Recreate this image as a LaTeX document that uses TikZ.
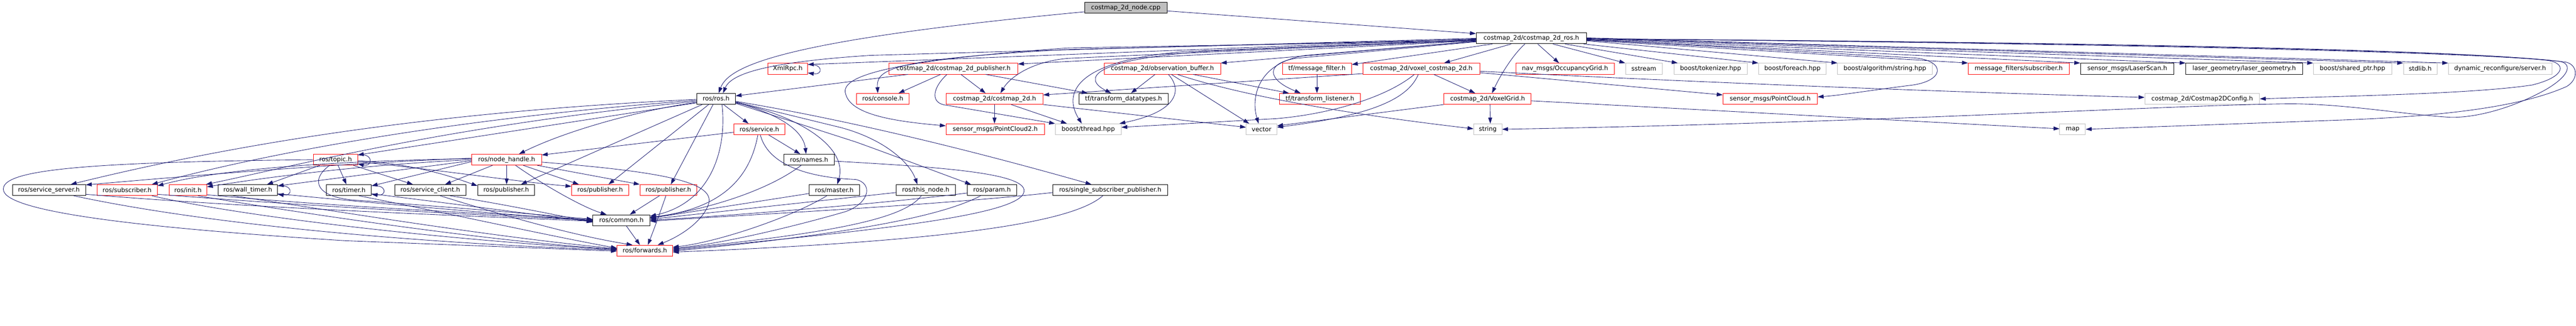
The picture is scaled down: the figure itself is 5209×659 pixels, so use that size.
\documentclass[tikz,border=0pt]{standalone}
\usepackage{fontspec}
\setmainfont{DejaVu Sans}
\usetikzlibrary{arrows.meta}
\definecolor{edgec}{HTML}{191970}
\definecolor{grayb}{HTML}{BFBFBF}
\tikzset{
  nbox/.style={draw, rectangle, minimum height=22pt, inner sep=0pt, line width=1pt,
    font=\fontsize{12.5}{15}\selectfont, text=black, anchor=center},
  rbox/.style={nbox, draw=red},
  bbox/.style={nbox, draw=black},
  gbox/.style={nbox, draw=grayb},
  rootbox/.style={nbox, draw=black, fill=grayb},
  e/.style={draw=edgec, line width=0.9pt, -{Triangle[length=12pt,width=8pt]}},
}
\begin{document}
\begin{tikzpicture}[x=1pt,y=-1pt]
\useasboundingbox (0,0) rectangle (5209,659);
% ---------- nodes ----------
\node[rootbox, minimum width=167pt] (root) at (2276.5,16) {costmap\_2d\_node.cpp};
\node[bbox, minimum width=223pt] (cmros) at (3096.5,77.5) {costmap\_2d/costmap\_2d\_ros.h};
% row 2
\node[rbox, minimum width=80pt] (xmlrpc) at (1593,139) {XmlRpc.h};
\node[rbox, minimum width=260pt] (pub) at (1928,139) {costmap\_2d/costmap\_2d\_publisher.h};
\node[rbox, minimum width=235pt] (obsbuf) at (2350.5,139) {costmap\_2d/observation\_buffer.h};
\node[rbox, minimum width=140pt] (msgfilter) at (2663,139) {tf/message\_filter.h};
\node[rbox, minimum width=236pt] (voxcm) at (2874,139) {costmap\_2d/voxel\_costmap\_2d.h};
\node[rbox, minimum width=199pt] (occgrid) at (3164.5,139) {nav\_msgs/OccupancyGrid.h};
\node[gbox, minimum width=74pt] (sstream) at (3324,139) {sstream};
\node[gbox, minimum width=148pt] (tokenizer) at (3459,139) {boost/tokenizer.hpp};
\node[gbox, minimum width=137pt] (foreach) at (3624.5,139) {boost/foreach.hpp};
\node[gbox, minimum width=191pt] (algostr) at (3811.5,139) {boost/algorithm/string.hpp};
\node[rbox, minimum width=204pt] (mfsub) at (4082,139) {message\_filters/subscriber.h};
\node[bbox, minimum width=189pt] (laserscan) at (4301.5,139) {sensor\_msgs/LaserScan.h};
\node[bbox, minimum width=236pt] (lasergeo) at (4538,139) {laser\_geometry/laser\_geometry.h};
\node[gbox, minimum width=158pt] (sharedptr) at (4757,139) {boost/shared\_ptr.hpp};
\node[gbox, minimum width=68pt] (stdlib) at (4894,139) {stdlib.h};
\node[gbox, minimum width=209pt] (dynrec) at (5055.5,139) {dynamic\_reconfigure/server.h};
% row 3
\node[bbox, minimum width=78pt] (rosros) at (1448,200) {ros/ros.h};
\node[rbox, minimum width=106pt] (console) at (1785,200) {ros/console.h};
\node[rbox, minimum width=196pt] (cm2d) at (2011,200) {costmap\_2d/costmap\_2d.h};
\node[bbox, minimum width=180pt] (tfdata) at (2272,200) {tf/transform\_datatypes.h};
\node[rbox, minimum width=164pt] (tflisten) at (2669,200) {tf/transform\_listener.h};
\node[rbox, minimum width=176pt] (voxgrid) at (3008,200) {costmap\_2d/VoxelGrid.h};
\node[rbox, minimum width=191pt] (pcloud) at (3579.5,200) {sensor\_msgs/PointCloud.h};
\node[gbox, minimum width=232pt] (cmconfig) at (4453,200) {costmap\_2d/Costmap2DConfig.h};
% row 4
\node[rbox, minimum width=103pt] (service) at (1535.5,261.5) {ros/service.h};
\node[rbox, minimum width=199pt] (pc2) at (2012.5,261.5) {sensor\_msgs/PointCloud2.h};
\node[gbox, minimum width=133pt] (thread) at (2200.5,261.5) {boost/thread.hpp};
\node[gbox, minimum width=62pt] (vector) at (2551,261.5) {vector};
\node[gbox, minimum width=57pt] (string) at (3008.5,261.5) {string};
\node[gbox, minimum width=52pt] (map) at (4191,261.5) {map};
% row 5
\node[rbox, minimum width=89pt] (topic) at (678.5,323) {ros/topic.h};
\node[rbox, minimum width=141pt] (nodeh) at (1024.5,323) {ros/node\_handle.h};
\node[bbox, minimum width=102pt] (names) at (1636,323) {ros/names.h};
% row 6
\node[bbox, minimum width=148pt] (srvserver) at (99,384.5) {ros/service\_server.h};
\node[rbox, minimum width=122pt] (subscriber) at (257,384.5) {ros/subscriber.h};
\node[rbox, minimum width=76pt] (init) at (380,384.5) {ros/init.h};
\node[bbox, minimum width=120pt] (walltimer) at (501,384.5) {ros/wall\_timer.h};
\node[bbox, minimum width=91pt] (timer) at (705.5,384.5) {ros/timer.h};
\node[bbox, minimum width=144pt] (srvclient) at (870,384.5) {ros/service\_client.h};
\node[bbox, minimum width=115pt] (pubblack) at (1023.5,384.5) {ros/publisher.h};
\node[rbox, minimum width=115pt] (pubred1) at (1213.5,384.5) {ros/publisher.h};
\node[rbox, minimum width=115pt] (pubred2) at (1351.5,384.5) {ros/publisher.h};
\node[bbox, minimum width=102pt] (master) at (1687,384.5) {ros/master.h};
\node[bbox, minimum width=120pt] (thisnode) at (1872,384.5) {ros/this\_node.h};
\node[bbox, minimum width=100pt] (param) at (2006,384.5) {ros/param.h};
\node[bbox, minimum width=232pt] (ssp) at (2245,384.5) {ros/single\_subscriber\_publisher.h};
% row 7, 8
\node[bbox, minimum width=115pt] (common) at (1256.5,445.5) {ros/common.h};
\node[rbox, minimum width=112pt] (forwards) at (1304,507) {ros/forwards.h};

% ---------- edges ----------
% root
\draw[e] (root) -- ([yshift=-2pt]cmros.north west);
\draw[e] (root) .. controls (1600,80) and (1475,130) .. ([xshift=5pt]rosros.north);
% costmap_2d_ros.h, to the left
\draw[e] (cmros.west) -- (1760,112) .. controls (1545,126) and (1478,150) .. ([xshift=14pt]rosros.north);
\draw[e] ([yshift=-1pt]cmros.west) -- ([yshift=-3pt]xmlrpc.north east);
\draw[e] ([yshift=-5pt]cmros.west) -- ([yshift=-2pt]pub.north east);
\draw[e] ([yshift=-2pt]cmros.west) -- (2160,100) .. controls (1800,120) and (1772,140) .. ([xshift=-10pt]console.north);
\draw[e] ([yshift=-4pt]cmros.west) -- (2160,118) .. controls (2080,125) and (2040,160) .. ([xshift=12pt]cm2d.north);
\draw[e] ([yshift=-6pt]cmros.west) -- (obsbuf.north east);
\draw[e] ([yshift=-3pt]cmros.west) -- (2450,103) .. controls (2200,120) and (2190,160) .. ([xshift=-25pt]tfdata.north);
\draw[e] ([yshift=-3pt]cmros.west) -- (2400,104) .. controls (2170,122) and (2150,190) .. ([xshift=-13pt]thread.north);
\draw[e] ([yshift=-6pt]cmros.west) -- (2640,112) .. controls (2540,128) and (2530,200) .. ([xshift=-6pt]vector.north);
\draw[e] ([yshift=-7pt]cmros.west) -- (2620,118) .. controls (2560,128) and (2560,160) .. ([xshift=-39pt]tflisten.north);
\draw[e] ([yshift=-5pt]cmros.west) -- (2160,97) .. controls (1760,125) and (1700,160) .. (1710,190) .. controls (1720,230) and (1800,245) .. ([yshift=7pt]pc2.west);
% costmap_2d_ros.h, below
\draw[e] (cmros) -- ([yshift=-3pt]msgfilter.north east);
\draw[e] (cmros) -- ([xshift=46pt]voxcm.north);
\draw[e] (cmros) .. controls (3060,110) and (3035,150) .. ([xshift=9pt]voxgrid.north);
\draw[e] (cmros) -- ([xshift=-12pt]occgrid.north);
\draw[e] (cmros) -- (sstream.north west);
\draw[e] (cmros) -- ([xshift=8pt]tokenizer.north west);
\draw[e] (cmros) -- (foreach.north west);
% costmap_2d_ros.h, to the right
\draw[e] ([yshift=-5pt]cmros.east) -- (algostr.north west);
\draw[e] ([yshift=-4pt]cmros.east) -- (mfsub.north west);
\draw[e] ([yshift=-3pt]cmros.east) -- (laserscan.north west);
\draw[e] ([yshift=-2pt]cmros.east) -- (lasergeo.north west);
\draw[e] ([yshift=-1pt]cmros.east) -- (sharedptr.north west);
\draw[e] ([yshift=0pt]cmros.east) -- (stdlib.north west);
\draw[e] ([yshift=1pt]cmros.east) -- (dynrec.north west);
\draw[e] ([yshift=-3pt]cmros.east) .. controls (3500,95) and (3700,108) .. (3870,117) .. controls (3935,122) and (3935,165) .. (3860,173) .. controls (3780,183) and (3720,193) .. ([yshift=4pt]pcloud.east);
\draw[e] ([yshift=-1pt]cmros.east) .. controls (4200,85) and (4950,100) .. (5150,122) .. controls (5190,127) and (5190,155) .. (5120,172) .. controls (5000,190) and (4750,194) .. (cmconfig.east);
\draw[e] ([yshift=-1pt]cmros.east) .. controls (4200,86) and (5000,102) .. (5175,124) .. controls (5200,128) and (5200,150) .. (5150,180) .. controls (5080,220) and (5000,240) .. (4950,237) .. controls (4850,230) and (4740,210) .. (4630,210) .. controls (4400,212) and (3800,248) .. (string.east);
\draw[e] ([yshift=-1pt]cmros.east) .. controls (4200,87) and (5050,105) .. (5190,126) .. controls (5212,132) and (5215,160) .. (5190,175) .. controls (5100,215) and (4950,235) .. (4730,243) -- (map.east);
% XmlRpc.h self loop
\draw[e] ([yshift=-3pt]xmlrpc.north east) .. controls (1665,128) and (1665,152) .. ([yshift=3pt]xmlrpc.south east);
% costmap_2d_publisher.h
\draw[e] (pub) -- ([yshift=6pt]rosros.east);
\draw[e] (pub) -- ([xshift=32pt]console.north);
\draw[e] (pub) -- ([xshift=-18pt]cm2d.north);
\draw[e] ([xshift=-13pt]pub.south) .. controls (1885,178) and (1880,210) .. (1915,213) -- (thread.north west);
\draw[e] ([xshift=65pt]pub.south) -- ([xshift=18pt]tfdata.north west);
% costmap_2d.h
\draw[e] (cm2d) -- (cm2d |- pc2.north);
\draw[e] (cm2d) -- ([xshift=-43pt]thread.north);
\draw[e] (cm2d.south east) -- ([yshift=4pt]vector.west);
% observation_buffer.h
\draw[e] (obsbuf) -- ([xshift=15pt]tfdata.north);
\draw[e] ([xshift=12pt]obsbuf.south) .. controls (2390,180) and (2385,225) .. ([xshift=-4pt]thread.north east);
\draw[e] ([xshift=18pt]obsbuf.south) -- ([xshift=-25pt]vector.north);
\draw[e] ([xshift=30pt]obsbuf.south) .. controls (2500,190) and (2700,228) .. ([yshift=1pt]string.west);
\draw[e] ([xshift=62pt]obsbuf.south) -- ([xshift=20pt]tflisten.north west);
% tf/message_filter.h
\draw[e] (msgfilter) -- (msgfilter |- tflisten.north);
% voxel_costmap_2d.h
\draw[e] ([yshift=-10pt]voxcm.west) -- ([yshift=8pt]cm2d.east);
\draw[e] (voxcm) -- ([xshift=-25pt]voxgrid.north);
\draw[e] ([xshift=-14pt]voxcm.south) .. controls (2800,200) and (2680,232) .. (2580,240) -- ([yshift=4pt]thread.east);
\draw[e] ([xshift=-6pt]voxcm.south) .. controls (2845,205) and (2760,235) .. ([yshift=4pt]vector.east);
\draw[e] ([yshift=-8pt]voxcm.east) -- ([yshift=8pt]pcloud.west);
\draw[e] ([yshift=-5pt]voxcm.east) .. controls (3400,165) and (3900,185) .. ([yshift=3pt]cmconfig.west);
% VoxelGrid.h
\draw[e] ([xshift=5pt]voxgrid.south) -- ([xshift=5pt]string.north);
\draw[e] (voxgrid.south west) -- ([yshift=7pt]vector.east);
\draw[e] ([yshift=-4pt]voxgrid.east) .. controls (3500,225) and (3900,247) .. ([yshift=1pt]map.west);
% ros/ros.h
\draw[e] (rosros) -- ([xshift=-22pt]service.north);
\draw[e] ([yshift=-7pt]rosros.east) .. controls (1590,235) and (1625,270) .. ([xshift=-6pt]names.north);
\draw[e] ([yshift=-8pt]rosros.east) .. controls (1620,235) and (1715,300) .. ([xshift=6pt]master.north);
\draw[e] ([yshift=-5pt]rosros.east) .. controls (1700,240) and (1950,300) .. ([xshift=-38pt]ssp.north);
\draw[e] ([yshift=-6pt]rosros.east) -- (1700,258) .. controls (1790,282) and (1840,330) .. ([xshift=-17pt]thisnode.north);
\draw[e] ([yshift=-9pt]rosros.east) -- (1730,287) .. controls (1800,312) and (1900,350) .. ([xshift=8pt]param.north west);
\draw[e] (rosros) -- ([xshift=5pt]pubred2.north);
\draw[e] ([xshift=-15pt]rosros.south) -- ([xshift=17pt]pubred1.north);
\draw[e] ([xshift=-28pt]rosros.south) -- ([xshift=30pt]pubblack.north);
\draw[e] ([yshift=-7pt]rosros.west) .. controls (1300,222) and (1150,262) .. ([xshift=25pt]nodeh.north);
\draw[e] ([yshift=-1pt]rosros.west) .. controls (900,225) and (500,285) .. ([xshift=44pt]srvserver.north);
\draw[e] ([yshift=-3pt]rosros.west) .. controls (900,240) and (520,315) .. ([xshift=50pt]subscriber.north);
\draw[e] ([yshift=-5pt]rosros.west) .. controls (900,255) and (600,335) .. ([xshift=-2pt]init.north east);
\draw[e] ([yshift=-8pt]rosros.west) -- ([yshift=-2pt]topic.north east);
\draw[e] ([xshift=12pt]rosros.south) .. controls (1470,300) and (1440,410) .. ([yshift=8pt]common.east);
% ros/service.h
\draw[e] (service) -- ([xshift=-18pt]names.north);
\draw[e] ([yshift=-6pt]service.west) -- ([yshift=-2pt]nodeh.north east);
\draw[e] ([xshift=-3pt]service.south) .. controls (1520,340) and (1480,420) .. ([yshift=6pt]common.east);
\draw[e] ([xshift=2pt]service.south) .. controls (1555,340) and (1650,360) .. (1730,363) .. controls (1765,370) and (1760,410) .. (1710,428) .. controls (1600,460) and (1450,495) .. ([yshift=5pt]forwards.east);
% ros/names.h
\draw[e] ([xshift=-16pt]names.south) .. controls (1560,380) and (1450,420) .. ([yshift=5pt]common.east);
\draw[e] ([yshift=-3pt]names.east) .. controls (1900,338) and (2085,350) .. (2070,390) .. controls (2055,440) and (1700,472) .. ([yshift=1pt]forwards.east);
% ros/node_handle.h
\draw[e] (nodeh) -- ([xshift=30pt]srvclient.north);
\draw[e] (nodeh) -- (nodeh |- pubblack.north);
\draw[e] (nodeh) -- ([xshift=-43pt]pubred1.north);
\draw[e] (nodeh) -- (pubred2.north west);
\draw[e] ([xshift=18pt]nodeh.south) .. controls (1100,375) and (1180,420) .. ([xshift=-30pt]common.north);
\draw[e] ([yshift=-5pt]nodeh.east) .. controls (1350,348) and (1450,370) .. (1432,415) .. controls (1418,452) and (1370,480) .. ([xshift=26pt]forwards.north);
\draw[e] ([yshift=-2pt]nodeh.west) -- ([yshift=-3pt]walltimer.north east);
\draw[e] ([yshift=-4pt]nodeh.west) -- ([yshift=-3pt]timer.north east);
\draw[e] ([yshift=2pt]nodeh.west) .. controls (700,325) and (450,340) .. ([yshift=-3pt]subscriber.north east);
\draw[e] ([yshift=3pt]nodeh.west) .. controls (700,330) and (450,350) .. ([yshift=-1pt]srvserver.north east);
\draw[e] ([yshift=0pt]nodeh.west) .. controls (700,335) and (500,365) .. ([yshift=-5pt]init.north east);
% ros/topic.h
\draw[e] ([yshift=-2pt]topic.north east) .. controls (755,308) and (755,338) .. ([yshift=3pt]topic.south east);
\draw[e] (topic) -- ([xshift=39pt]walltimer.north);
\draw[e] (topic) -- ([xshift=-5pt]timer.north);
\draw[e] (topic) -- ([xshift=-35pt]srvclient.north);
\draw[e] ([xshift=-12pt]topic.south) .. controls (625,365) and (640,400) .. (720,405) .. controls (900,418) and (1100,435) .. ([yshift=2pt]common.west);
\draw[e] (topic.west) .. controls (150,328) and (0,345) .. (7,385) .. controls (15,430) and (300,462) .. (700,487) -- ([yshift=-1pt]forwards.west);
\draw[e] ([yshift=-2pt]topic.east) .. controls (850,333) and (920,360) .. ([yshift=-3pt]pubblack.north west);
\draw[e] ([yshift=-4pt]topic.east) .. controls (900,345) and (1050,368) .. ([yshift=-4pt]pubred1.north west);
% timers self loops
\draw[e] ([yshift=-3pt]walltimer.north east) .. controls (593,372) and (593,397) .. ([yshift=3pt]walltimer.south east);
\draw[e] ([yshift=-3pt]timer.north east) .. controls (783,372) and (783,397) .. ([yshift=3pt]timer.south east);
% row 6 to common / forwards (left part)
\draw[e] ([yshift=3pt]srvserver.south east) .. controls (500,420) and (900,435) .. ([yshift=-2pt]common.west);
\draw[e] ([xshift=50pt]srvserver.south) .. controls (400,450) and (800,490) .. ([yshift=1pt]forwards.west);
\draw[e] ([yshift=3pt]subscriber.south east) .. controls (600,415) and (900,432) .. (common.west);
\draw[e] ([xshift=50pt]subscriber.south) .. controls (500,440) and (900,485) .. ([yshift=2pt]forwards.west);
\draw[e] ([yshift=2pt]init.south east) .. controls (700,420) and (1000,432) .. ([yshift=1pt]common.west);
\draw[e] ([xshift=20pt]init.south) .. controls (600,430) and (1000,490) .. ([yshift=3pt]forwards.west);
\draw[e] ([yshift=4pt]walltimer.south east) .. controls (800,415) and (1000,432) .. ([yshift=-1pt]common.west);
\draw[e] ([xshift=-30pt]walltimer.south) .. controls (700,430) and (1000,480) .. ([yshift=4pt]forwards.west);
\draw[e] ([yshift=4pt]timer.south east) .. controls (900,410) and (1050,430) .. ([yshift=-3pt]common.west);
\draw[e] ([xshift=20pt]timer.south) .. controls (900,430) and (1100,475) .. ([yshift=5pt]forwards.west);
\draw[e] ([xshift=40pt]srvclient.south) .. controls (1000,410) and (1100,430) .. ([yshift=-4pt]common.west);
\draw[e] ([xshift=20pt]srvclient.south) .. controls (1000,430) and (1150,475) .. ([xshift=-25pt]forwards.north);
\draw[e] ([xshift=-18pt]pubred2.south) -- ([xshift=17pt]common.north);
\draw[e] ([xshift=-5pt]pubred2.south) .. controls (1335,430) and (1320,470) .. ([xshift=6pt]forwards.north);
\draw[e] ([xshift=10pt]common.south) -- ([xshift=-10pt]forwards.north);
% row 6 to common / forwards (right part)
\draw[e] ([yshift=-7pt]master.west) -- ([yshift=4pt]common.east);
\draw[e] ([xshift=-15pt]master.south) .. controls (1600,440) and (1450,490) .. ([yshift=7pt]forwards.east);
\draw[e] ([yshift=-5pt]thisnode.west) -- ([yshift=2pt]common.east);
\draw[e] ([xshift=-9pt]thisnode.south) .. controls (1830,440) and (1700,470) .. ([yshift=3pt]forwards.east);
\draw[e] ([yshift=-6pt]param.west) .. controls (1800,410) and (1500,435) .. (common.east);
\draw[e] ([xshift=-23pt]param.south) .. controls (1900,440) and (1700,475) .. ([yshift=-1pt]forwards.east);
\draw[e] ([yshift=-5pt]ssp.west) .. controls (1900,415) and (1500,435) .. ([yshift=-2pt]common.east);
\draw[e] ([xshift=-15pt]ssp.south) .. controls (2180,440) and (2000,485) .. ([yshift=-3pt]forwards.east);
\end{tikzpicture}
\end{document}
